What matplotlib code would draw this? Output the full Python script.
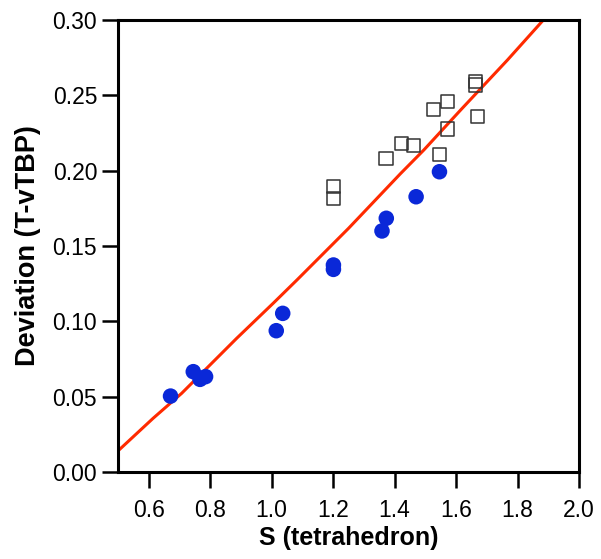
import matplotlib.pyplot as plt

plt.rcParams['font.family'] = ['Liberation Sans', 'DejaVu Sans']

# blue filled circles
circle_x = [0.671, 0.745, 0.767, 0.785, 1.015, 1.036, 1.201, 1.201, 1.359, 1.373, 1.470, 1.546]
circle_y = [0.0504, 0.0666, 0.0615, 0.0633, 0.0938, 0.1053, 0.1374, 0.1345, 0.160, 0.1684, 0.1827, 0.1993]

# open squares
square_x = [1.200, 1.200, 1.372, 1.422, 1.462, 1.546, 1.526, 1.573, 1.573, 1.664, 1.664, 1.670]
square_y = [0.1894, 0.1817, 0.208, 0.218, 0.2166, 0.211, 0.2405, 0.246, 0.2277, 0.2569, 0.2590, 0.2361]

# red trend line
line_x = [0.50, 0.614, 0.707, 0.886, 1.006, 1.082, 1.250, 1.419, 1.495, 1.615, 1.767, 1.884]
line_y = [0.0140, 0.0356, 0.0522, 0.0887, 0.1122, 0.1274, 0.1617, 0.198, 0.2137, 0.2403, 0.2734, 0.300]

xticks = [0.6, 0.8, 1.0, 1.2, 1.4, 1.6, 1.8, 2.0]
yticks = [0.00, 0.05, 0.10, 0.15, 0.20, 0.25, 0.30]

fig = plt.figure(figsize=(6.01, 5.59), dpi=100)
ax = fig.add_axes([0.1963, 0.1556, 0.7671, 0.8086])

ax.plot(line_x, line_y, color='#ff2a00', lw=2.2, zorder=2)
ax.scatter(square_x, square_y, marker='s', s=90, facecolors='none',
           edgecolors='#333333', linewidths=1.1, zorder=3)
ax.scatter(circle_x, circle_y, marker='o', s=125, color='#0a28d8',
           edgecolors='none', zorder=4)

ax.set_xlim(0.5, 2.0)
ax.set_ylim(0.0, 0.30)
ax.set_xticks(xticks)
ax.set_xticklabels([f"{v:.1f}" for v in xticks])
ax.set_yticks(yticks)
ax.set_yticklabels([f"{v:.2f}" for v in yticks])

for sp in ax.spines.values():
    sp.set_linewidth(2.2)
ax.tick_params(direction='out', length=11.5, width=1.8, labelsize=16.5)
ax.tick_params(axis='x', pad=8)
ax.tick_params(axis='y', pad=3.5)

ax.set_xlabel("S (tetrahedron)", fontsize=18, fontweight='bold', labelpad=3)
ax.set_ylabel("Deviation (T-vTBP)", fontsize=19.5, fontweight='bold', labelpad=8)

fig.savefig("out.png", dpi=100)
